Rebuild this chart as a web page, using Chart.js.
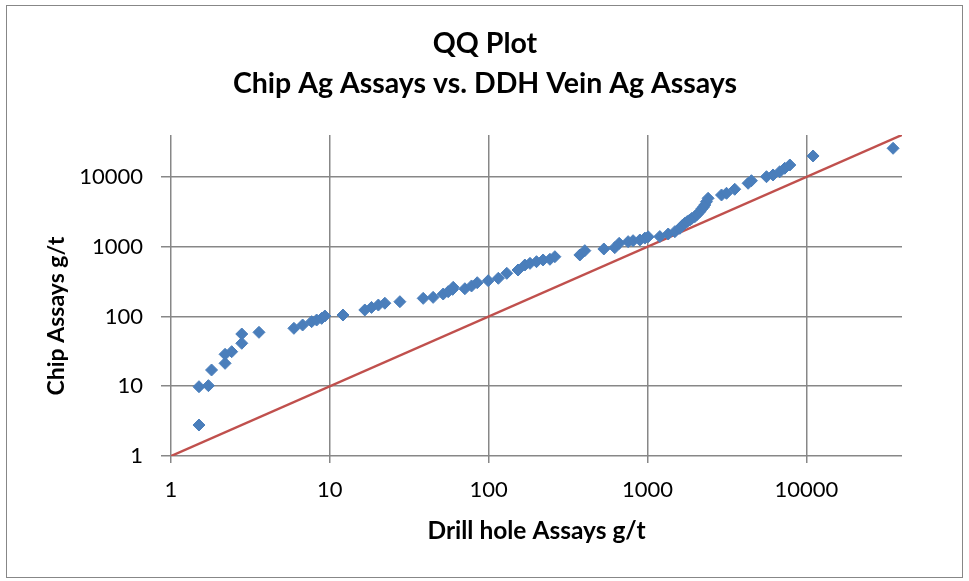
<!DOCTYPE html>
<html>
<head>
<meta charset="utf-8">
<title>QQ Plot</title>
<script src="https://cdn.jsdelivr.net/npm/chart.js@4.4.1/dist/chart.umd.min.js"></script>
<style>
  html, body { margin: 0; padding: 0; background: #fff; }
  #wrap { position: relative; width: 969px; height: 581px; }
  #frame { position: absolute; left: 6px; top: 5px; width: 955px; height: 571px; border: 1px solid #878787; pointer-events: none; }
  canvas { position: absolute; left: 0; top: 0; }
</style>
</head>
<body>
<div id="wrap">
  <canvas id="qq" width="969" height="581"></canvas>
  <div id="frame"></div>
</div>
<script>
// drill hole quantiles (x) against chip quantiles (y), g/t Ag
var drillHole = [1.5, 1.5, 1.72, 1.8, 2.19, 2.19, 2.41, 2.79, 2.79, 3.58,
  5.94, 6.74, 7.68, 8.26, 8.88, 9.31, 12.1, 16.6, 18.3, 20.2,
  22.2, 27.6, 38.7, 44.7, 51.7, 55.6, 59.3, 59.8, 70.8, 78,
  84.7, 99.3, 115, 130, 153, 169, 182, 200, 220, 243,
  261, 375, 403, 531, 622, 663, 755, 811, 895, 962,
  1009, 1195, 1349, 1486, 1597, 1650, 1717, 1780, 1846, 1900,
  1985, 2050, 2134, 2200, 2250, 2294, 2350, 2407, 2923, 3142,
  3540, 4297, 4510, 5610, 6170, 6800, 7310, 7870, 11020, 35150];
var chip = [2.78, 9.85, 10.2, 17.1, 21.3, 28.7, 31.3, 41.3, 56.1, 59.3,
  67.7, 75.5, 84.3, 89, 94, 101.7, 105, 124, 135, 146,
  155, 163, 182, 188, 210, 227, 245, 262, 250, 274,
  305, 326, 353, 416, 464, 547, 578, 611, 646, 661,
  720, 762, 879, 929, 970, 1120, 1183, 1222, 1250, 1330,
  1390, 1400, 1523, 1644, 1837, 2000, 2169, 2300, 2420, 2550,
  2700, 2900, 3183, 3500, 3700, 3970, 4425, 4950, 5520, 5840,
  6670, 8130, 8850, 10100, 10690, 11900, 13340, 14860, 20000, 25790];
// 1:1 reference line
var refLine = [1, 40000];
var tickValues = [1, 10, 100, 1000, 10000];
var axisMin = 1, axisMax = 40000;

var FONT = 'Lato, Carlito, Calibri, sans-serif';

var points = drillHole.map(function(v, i){ return {x: v, y: chip[i]}; });
var line = refLine.map(function(v){ return {x: v, y: v}; });

// chart title and y axis title, placed like the Excel original
var excelTitles = {
  id: 'excelTitles',
  afterDraw: function(chart){
    var ctx = chart.ctx;
    ctx.save();
    ctx.fillStyle = '#000';
    ctx.textAlign = 'center';
    ctx.textBaseline = 'middle';
    ctx.font = 'bold 28.5px ' + FONT;
    ctx.fillText('QQ Plot', 485, 44);
    ctx.fillText('Chip Ag Assays vs. DDH Vein Ag Assays', 485, 84);
    ctx.translate(57, 316);
    ctx.rotate(-Math.PI / 2);
    ctx.font = 'bold 23px ' + FONT;
    ctx.fillText('Chip Assays g/t', 0, 0);
    ctx.restore();
  }
};

function fixedTicks(scale){
  scale.ticks = tickValues.map(function(v){ return {value: v}; });
}

new Chart(document.getElementById('qq'), {
  type: 'scatter',
  data: {
    datasets: [{
      label: 'Chip vs DDH',
      data: points,
      order: 0,
      pointStyle: 'rectRot',
      pointRadius: 6,
      pointHoverRadius: 6,
      pointBorderWidth: 1,
      backgroundColor: '#4A7EBB',
      borderColor: '#4A7EBB'
    }, {
      label: '1:1',
      type: 'line',
      data: line,
      order: 1,
      showLine: true,
      pointRadius: 0,
      borderColor: '#C0504D',
      borderWidth: 2.5,
      fill: false
    }]
  },
  options: {
    responsive: false,
    animation: false,
    layout: { padding: { left: 37, right: 67, top: 135, bottom: 21 } },
    plugins: {
      legend: { display: false },
      title: { display: false },
      tooltip: { enabled: false }
    },
    scales: {
      x: {
        type: 'logarithmic',
        min: axisMin,
        max: axisMax,
        afterBuildTicks: fixedTicks,
        afterFit: function(s){ s.height = 104; },
        border: { display: false },
        grid: { color: '#878787', lineWidth: 1.5, tickLength: 7 },
        ticks: {
          padding: 14,
          color: '#000',
          font: { family: FONT, size: 22 },
          maxRotation: 0,
          callback: function(v){ return String(v); }
        },
        title: {
          display: true,
          text: 'Drill hole Assays g/t',
          color: '#000',
          font: { family: FONT, size: 24.5, weight: 'bold' },
          padding: { top: 0, bottom: 14 }
        }
      },
      y: {
        type: 'logarithmic',
        min: axisMin,
        max: axisMax,
        afterBuildTicks: fixedTicks,
        afterFit: function(s){ s.width = 134; },
        border: { display: false },
        grid: { color: '#878787', lineWidth: 1.5, tickLength: 10 },
        ticks: {
          padding: 18,
          color: '#000',
          font: { family: FONT, size: 22 },
          callback: function(v){ return String(v); }
        }
      }
    }
  },
  plugins: [excelTitles]
});
</script>
</body>
</html>
